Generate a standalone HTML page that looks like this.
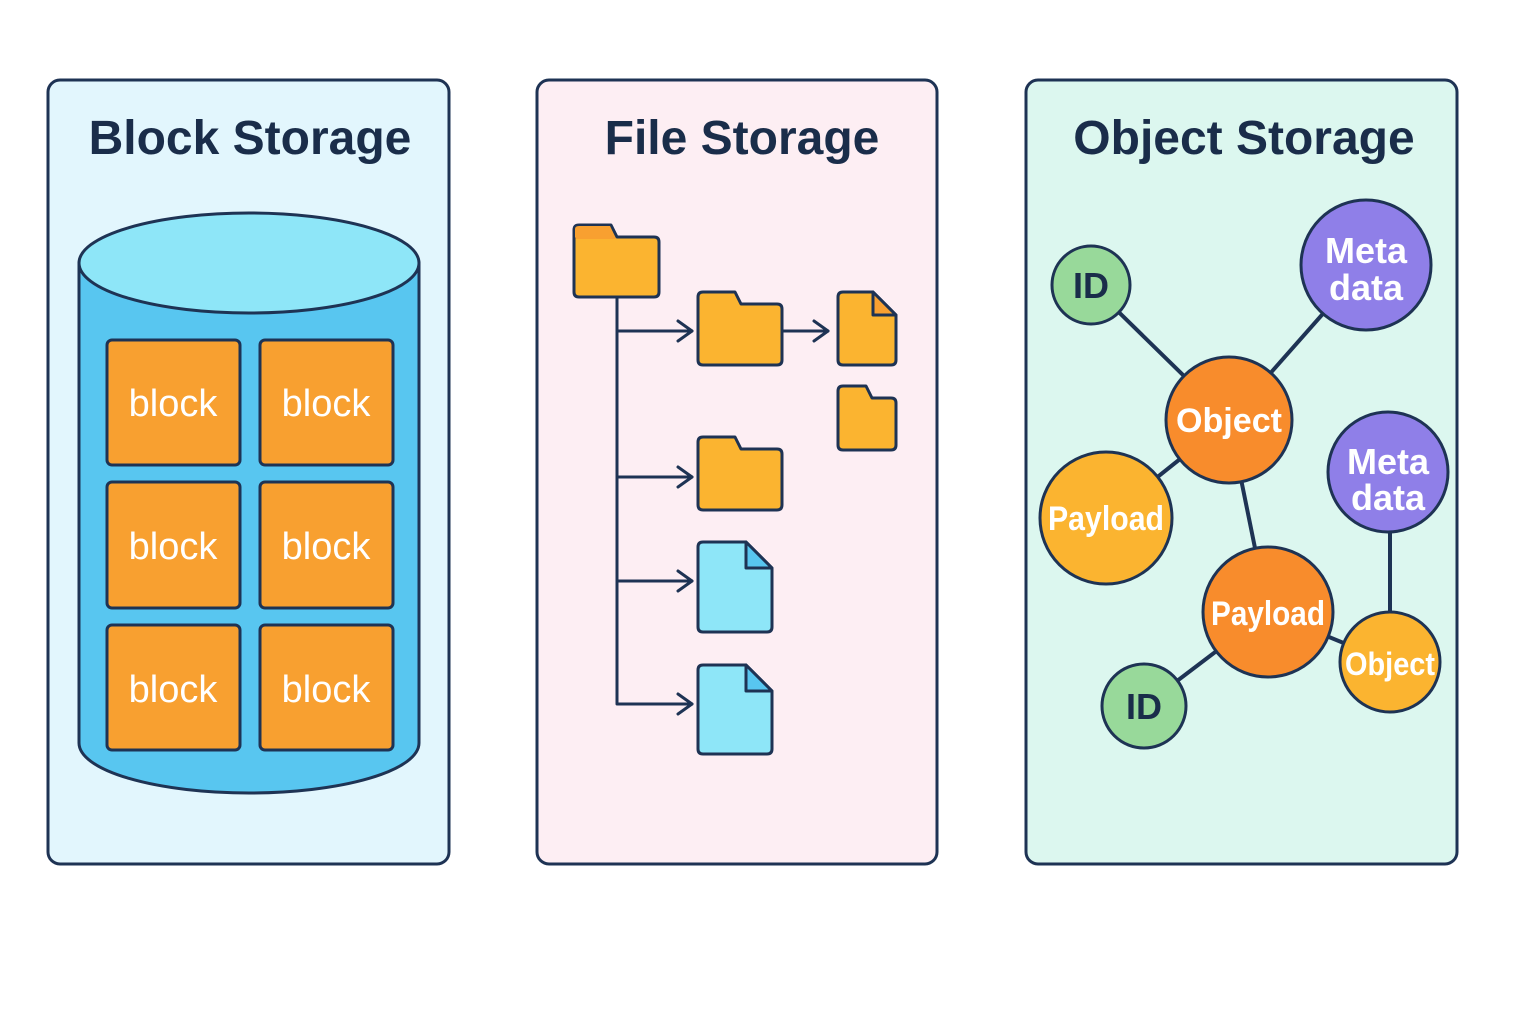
<!DOCTYPE html>
<html><head><meta charset="utf-8"><style>body{margin:0;background:#fff}svg{display:block}text{font-family:"Liberation Sans",sans-serif;font-weight:bold}</style></head><body>
<svg width="1536" height="1024" viewBox="0 0 1536 1024" xmlns="http://www.w3.org/2000/svg">
<g stroke="#1e3354" stroke-width="3">
<rect x="48" y="80" width="401" height="784" rx="12" fill="#e2f6fd"/>
<rect x="537" y="80" width="400" height="784" rx="12" fill="#fdeef3"/>
<rect x="1026" y="80" width="431" height="784" rx="12" fill="#dcf7ef"/>
</g>
<g fill="#1a2d4a" font-size="48" text-anchor="middle">
<text x="250" y="154">Block Storage</text>
<text x="742" y="154">File Storage</text>
<text x="1244" y="154">Object Storage</text>
</g>
<!-- cylinder -->
<g stroke="#1e3354" stroke-width="3">
<path d="M79 263 L79 743 A170 50 0 0 0 419 743 L419 263 Z" fill="#58c6f0"/>
<ellipse cx="249" cy="263" rx="170" ry="50" fill="#8ee6f8"/>
<g fill="#f8a030">
<rect x="107" y="340" width="133" height="125" rx="5"/><rect x="260" y="340" width="133" height="125" rx="5"/>
<rect x="107" y="482" width="133" height="126" rx="5"/><rect x="260" y="482" width="133" height="126" rx="5"/>
<rect x="107" y="625" width="133" height="125" rx="5"/><rect x="260" y="625" width="133" height="125" rx="5"/>
</g></g>
<g fill="#fff" font-size="38" font-weight="normal" text-anchor="middle" style="font-weight:normal">
<text x="173" y="416" style="font-weight:normal">block</text><text x="326" y="416" style="font-weight:normal">block</text>
<text x="173" y="559" style="font-weight:normal">block</text><text x="326" y="559" style="font-weight:normal">block</text>
<text x="173" y="702" style="font-weight:normal">block</text><text x="326" y="702" style="font-weight:normal">block</text>
</g>
<!-- file tree -->
<g stroke="#1e3354" stroke-width="3" fill="none" stroke-linecap="round" stroke-linejoin="round">
<path d="M617 297 V704 H692 M617 331 H692 M617 477 H692 M617 581 H692 M782 331 H828"/>
<path d="M678 321 L692 331 L678 341 M678 467 L692 477 L678 487 M678 571 L692 581 L678 591 M678 694 L692 704 L678 714 M814 321 L828 331 L814 341"/>
</g>
<g stroke="#1e3354" stroke-width="3" stroke-linejoin="round">
<path d="M574 230 Q574 225 579 225 H611 L617 237 H654 Q659 237 659 242 V292 Q659 297 654 297 H579 Q574 297 574 292 Z" fill="#fbb430"/>
<path d="M575 237 V229 Q575 226 579 226 H610 L616 239 H576Z" fill="#f8a030" stroke="none"/>
<path d="M698 297 Q698 292 703 292 H735 L741 304 H777 Q782 304 782 309 V360 Q782 365 777 365 H703 Q698 365 698 360 Z" fill="#fbb430"/>
<path d="M698 442 Q698 437 703 437 H735 L741 449 H777 Q782 449 782 454 V505 Q782 510 777 510 H703 Q698 510 698 505 Z" fill="#fbb430"/>
<path d="M838 391 Q838 386 843 386 H866 L872 398 H891 Q896 398 896 403 V445 Q896 450 891 450 H843 Q838 450 838 445 Z" fill="#fbb430"/>
<path d="M843 292 H873 L896 315 V360 Q896 365 891 365 H843 Q838 365 838 360 V297 Q838 292 843 292Z" fill="#fbb430"/>
<path d="M873 292 V315 H896 Z" fill="#f8a030"/>
<path d="M703 542 H746 L772 568 V627 Q772 632 767 632 H703 Q698 632 698 627 V547 Q698 542 703 542Z" fill="#8ee6f8"/>
<path d="M746 542 V568 H772 Z" fill="#58c6f0"/>
<path d="M703 665 H746 L772 691 V749 Q772 754 767 754 H703 Q698 754 698 749 V670 Q698 665 703 665Z" fill="#8ee6f8"/>
<path d="M746 665 V691 H772 Z" fill="#58c6f0"/>
</g>
<!-- object graph -->
<g stroke="#1e3354" stroke-width="4">
<line x1="1091" y1="285" x2="1229" y2="420"/><line x1="1366" y1="265" x2="1229" y2="420"/>
<line x1="1229" y1="420" x2="1106" y2="518"/><line x1="1229" y1="420" x2="1268" y2="612"/>
<line x1="1390" y1="472" x2="1390" y2="662"/><line x1="1268" y1="612" x2="1390" y2="662"/>
<line x1="1268" y1="612" x2="1144" y2="706"/>
</g>
<g stroke="#1e3354" stroke-width="3">
<circle cx="1091" cy="285" r="39" fill="#98d99a"/>
<circle cx="1366" cy="265" r="65" fill="#8f7fe8"/>
<circle cx="1229" cy="420" r="63" fill="#f88c2c"/>
<circle cx="1106" cy="518" r="66" fill="#fbb430"/>
<circle cx="1388" cy="472" r="60" fill="#8f7fe8"/>
<circle cx="1268" cy="612" r="65" fill="#f88c2c"/>
<circle cx="1390" cy="662" r="50" fill="#fbb430"/>
<circle cx="1144" cy="706" r="42" fill="#98d99a"/>
</g>
<g text-anchor="middle" font-size="36">
<text x="1091" y="298" fill="#1a2d4a">ID</text>
<text x="1144" y="719" fill="#1a2d4a">ID</text>
<g fill="#fff">
<text x="1366" y="263">Meta</text><text x="1366" y="300">data</text>
<text x="1388" y="474">Meta</text><text x="1388" y="510">data</text>
<text x="1229" y="432" font-size="34" textLength="106" lengthAdjust="spacingAndGlyphs">Object</text>
<text x="1106" y="530" font-size="34" textLength="116" lengthAdjust="spacingAndGlyphs">Payload</text>
<text x="1268" y="625" font-size="34" textLength="114" lengthAdjust="spacingAndGlyphs">Payload</text>
<text x="1390" y="675" font-size="32" textLength="90" lengthAdjust="spacingAndGlyphs">Object</text>
</g></g>
</svg>
</body></html>
